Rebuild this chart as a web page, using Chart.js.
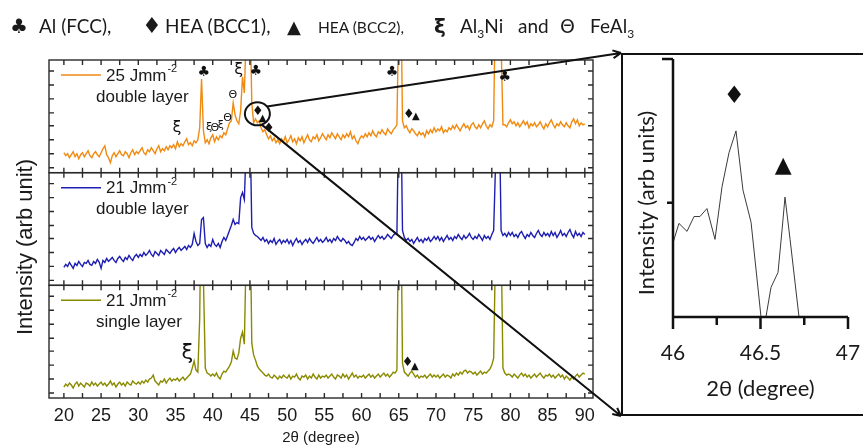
<!DOCTYPE html>
<html>
<head>
<meta charset="utf-8">
<script src="https://cdn.jsdelivr.net/npm/chart.js@4.4.1/dist/chart.umd.min.js"></script>
<style>
  body { margin: 0; width: 863px; height: 447px; overflow: hidden; background: #fff; position: relative; }
  #main { position: absolute; left: 0; top: 0; }
  #phaseKey { position: absolute; left: 0; top: 12px; font-family: Lato, "DejaVu Sans", sans-serif; font-size: 19px; line-height: 28px; color: #1a1a1a; white-space: nowrap; }
  #phaseKey .it { display: inline-block; width: 0; position: relative; white-space: nowrap; }
  #phaseKey .sym { font-family: "DejaVu Sans"; }
  #zoomBox { position: absolute; left: 621px; top: 53px; width: 250px; height: 363px; border: 2px solid #111; box-sizing: border-box; background: #fff; }
  #inset { position: absolute; left: 0; top: 0; }
</style>
</head>
<body>
<canvas id="main" width="863" height="447"></canvas>
<div id="phaseKey">
  <span class="it sym" style="left:10px;font-size:20px">♣</span><span class="it" style="left:39px">Al (FCC),</span><span class="it sym" style="left:142px;font-size:22px">♦</span><span class="it" style="left:165px">HEA (BCC1),</span><span class="it sym" style="left:287px;font-size:18px">▲</span><span class="it" style="left:318px;font-size:15.5px">HEA (BCC2),</span><span class="it sym" style="left:434px;font-size:20px;font-weight:bold">ξ</span><span class="it" style="left:460px">Al<sub style="font-size:12px">3</sub>Ni</span><span class="it" style="left:518px">and</span><span class="it sym" style="left:560px;font-size:19px">Θ</span><span class="it" style="left:590px">FeAl<sub style="font-size:12px">3</sub></span>
</div>
<div id="zoomBox"><canvas id="inset" width="246" height="359"></canvas></div>
<script>
//DATA

// 2theta grid: 20 to 90 deg, 0.25 deg step
var thetaStart = 20;
var thetaStep = 0.25;

// 25 Jmm-2 double layer
var int25Double = [
  20,17,19,15,18,21,16,19,14,18,20,16,19,22,17,15,19,21,18,16,
  20,24,27,18,15,10,17,20,16,19,22,18,17,21,19,15,20,23,18,21,
  19,22,25,20,18,23,21,25,22,19,24,27,21,24,22,26,23,27,25,28,
  24,31,26,29,27,31,34,28,30,27,32,30,33,45,94,42,30,33,29,35,
  38,31,36,33,37,35,40,38,44,50,52,70,58,52,49,62,96,80,140,220,
  170,70,50,54,50,52,45,41,43,38,34,37,32,35,30,33,29,34,31,36,
  30,33,37,31,34,29,35,32,36,30,34,38,33,31,36,34,38,32,35,39,
  36,33,38,35,40,37,34,39,36,33,38,35,39,36,41,34,37,32,29,34,
  37,35,39,36,40,37,42,38,36,41,39,43,40,38,44,41,39,43,45,48,
  160,200,52,45,47,43,40,44,42,39,37,41,38,40,36,42,39,43,40,45,
  41,44,42,46,40,43,41,45,43,47,44,48,45,42,46,49,45,47,43,48,
  50,46,44,48,45,49,52,47,44,48,46,52,180,220,210,130,48,48,46,50,
  53,49,51,47,50,46,49,52,48,51,45,49,47,50,46,48,51,47,44,49,
  46,50,53,48,45,49,47,51,48,46,50,47,45,51,54,49,53,47,50,48,
  49
];

// 21 Jmm-2 double layer
var int21Double = [
  18,21,19,23,20,17,22,20,24,21,19,23,22,25,21,20,24,22,26,23,
  17,25,23,27,24,26,28,25,23,27,29,26,24,28,26,30,27,25,29,31,
  28,31,29,33,30,32,35,31,29,34,32,30,35,33,31,36,34,32,35,37,
  33,36,38,35,37,39,36,40,38,41,52,44,40,42,66,68,42,38,41,39,
  46,41,39,42,38,44,48,45,50,55,60,66,61,63,62,88,93,86,140,220,
  170,58,52,50,49,47,45,48,44,46,42,45,43,47,41,44,46,42,45,43,
  46,42,45,40,44,47,43,45,41,44,46,43,47,44,42,45,48,44,46,43,
  45,48,44,46,43,47,45,49,46,44,47,45,42,44,41,40,43,47,45,49,
  46,48,45,47,49,46,48,44,47,50,47,49,46,48,51,49,47,50,52,51,
  180,200,55,48,45,47,44,46,42,45,48,44,46,43,47,45,48,44,46,49,
  46,49,45,48,44,47,50,46,48,45,49,47,51,48,46,50,47,49,52,48,
  46,49,47,51,48,45,50,47,49,46,51,55,120,230,180,55,50,52,49,53,
  50,53,49,51,48,52,54,50,47,51,49,53,50,48,52,55,51,49,53,50,
  52,49,54,50,53,48,51,55,50,52,49,53,56,51,48,54,50,52,49,53,
  51
];

// 21 Jmm-2 single layer
var int21Single = [
  11,14,12,15,13,10,14,16,12,15,13,11,15,14,12,16,13,15,12,14,
  16,13,15,12,14,17,13,15,11,14,16,13,15,12,16,14,13,17,15,14,
  16,14,17,15,18,16,19,20,23,17,15,13,17,16,19,15,18,20,17,19,
  18,20,17,19,21,18,20,22,24,30,37,28,26,80,240,120,30,25,24,22,
  24,22,25,21,19,24,27,26,29,32,36,47,40,39,45,60,66,54,150,240,
  200,55,43,38,32,29,27,25,23,22,24,21,20,23,21,19,22,20,23,21,
  20,23,19,22,21,24,20,18,22,21,23,19,22,20,24,21,19,23,20,22,
  21,23,20,22,24,21,19,23,22,20,24,21,23,19,22,25,21,23,20,22,
  21,23,20,22,24,21,23,20,22,24,21,23,25,22,24,21,23,26,25,28,
  200,220,35,26,24,22,25,27,24,21,23,20,22,21,23,20,22,24,21,23,
  21,23,20,22,24,21,23,22,20,24,22,25,23,26,24,27,28,25,27,26,
  24,26,23,25,27,24,26,25,27,29,33,40,150,240,230,160,30,25,23,24,
  23,21,24,22,20,23,25,22,24,21,23,20,22,24,21,23,25,22,20,23,
  22,24,21,23,20,22,24,21,23,19,22,20,18,21,19,22,24,21,23,25,
  24
];

var xTickLabels = [20, 25, 30, 35, 40, 45, 50, 55, 60, 65, 70, 75, 80, 85, 90];
var xMinorTicks = [22.5, 27.5, 32.5, 37.5, 42.5, 47.5, 52.5, 57.5, 62.5, 67.5, 72.5, 77.5, 82.5, 87.5];
var yTickVals = [5, 19, 33, 47, 60, 74, 88, 102];

var panelEnergy = ["25 Jmm", "21 Jmm", "21 Jmm"];
var panelLayer = ["double layer", "double layer", "single layer"];

// phase markers: panel index, 2theta, intensity
var phaseMarks = [
  [0, 38.8, 101, "♣"], [0, 35.2, 45, "ξ"], [0, 43.5, 103, "ξ"], [0, 45.8, 102, "♣"],
  [0, 46.06, 61, "♦"], [0, 46.7, 54, "▲"], [0, 47.55, 44, "♦"], [0, 64.1, 101, "♣"],
  [0, 66.35, 58, "♦"], [0, 67.3, 56, "▲"], [0, 79.25, 96, "♣"],
  [2, 36.6, 45, "ξ"], [2, 66.2, 35, "♦"], [2, 67.15, 32, "▲"]
];
var minorPhaseMarks = [
  [0, 39.5, 46, "ξ"], [0, 40.3, 45, "Θ"], [0, 41.1, 48, "ξ"], [0, 42.0, 55, "Θ"], [0, 42.7, 78, "Θ"]
];
var zoomSpot = [46.0, 59];

// inset: 46 - 47 deg of the 25 Jmm-2 pattern
var insetTheta = [46.0, 46.034, 46.08, 46.12, 46.154, 46.194, 46.24, 46.28, 46.32, 46.36, 46.4, 46.446,
  46.503, 46.517, 46.531, 46.56, 46.6, 46.623, 46.64, 46.669, 46.72, 46.737];
var insetIntensity = [0.65, 0.82, 0.75, 0.88, 0.88, 0.95, 0.68, 1.14, 1.44, 1.63, 1.11, 0.83,
  0.0, -0.12, 0.0, 0.26, 0.39, 0.76, 1.05, 0.68, 0.0, -0.13];
var insetTickLabels = [46, 46.5, 47];
var insetMinorTicks = [46.25, 46.75];
var insetYTicks = [1, 2.26];
var insetMarks = [[46.35, 1.93, "♦"], [46.63, 1.32, "▲"]];

//COLORS
var orange = "#F08A10";
var blue = "#1E1EB2";
var olive = "#8A8A00";
var frameColor = "#2a2a2a";
var textColor = "#1a1a1a";

var panelColors = [orange, blue, olive];
var panelAxes = ["yTop", "yMid", "yBot"];
var markSize = { "♣": 14, "♦": 13, "▲": 10, "ξ": 16, "Θ": 12 };

var twoTheta = int25Double.map(function (v, i) { return thetaStart + i * thetaStep; });

function toPoints(vals) {
  return vals.map(function (v, i) { return { x: twoTheta[i], y: v }; });
}

function seg(ctx, x1, y1, x2, y2) {
  ctx.moveTo(x1, y1);
  ctx.lineTo(x2, y2);
}

function arrowTo(ctx, x1, y1, x2, y2) {
  var ang = Math.atan2(y2 - y1, x2 - x1);
  ctx.beginPath();
  seg(ctx, x1, y1, x2, y2);
  seg(ctx, x2, y2, x2 - 9 * Math.cos(ang - 0.45), y2 - 9 * Math.sin(ang - 0.45));
  seg(ctx, x2, y2, x2 - 9 * Math.cos(ang + 0.45), y2 - 9 * Math.sin(ang + 0.45));
  ctx.stroke();
}

// keep the x axes from widening the chart area for their end labels
function noLabelPadding(s) {
  s.paddingLeft = 0;
  s.paddingRight = 0;
}

// clip every pattern to its own panel, then draw frames, ticks, keys and markers
var panelsPlugin = {
  id: "xrdPanels",
  beforeDatasetDraw: function (chart, args) {
    var ys = chart.scales[chart.data.datasets[args.index].yAxisID];
    var a = chart.chartArea;
    chart.ctx.save();
    chart.ctx.beginPath();
    chart.ctx.rect(a.left, ys.top, a.right - a.left, ys.bottom - ys.top);
    chart.ctx.clip();
  },
  afterDatasetDraw: function (chart) {
    chart.ctx.restore();
  },
  afterDraw: function (chart) {
    var ctx = chart.ctx;
    var a = chart.chartArea;
    var xs = chart.scales.x;
    ctx.save();
    panelAxes.forEach(function (id, k) {
      var ys = chart.scales[id];
      ctx.strokeStyle = frameColor;
      ctx.lineWidth = 1.4;
      ctx.strokeRect(a.left, ys.top, a.right - a.left, ys.bottom - ys.top);
      ctx.beginPath();
      xTickLabels.concat(xMinorTicks).forEach(function (v) {
        var p = xs.getPixelForValue(v);
        seg(ctx, p, ys.top, p, ys.top + 5);
        seg(ctx, p, ys.bottom, p, ys.bottom - 5);
      });
      yTickVals.forEach(function (v) {
        var p = ys.getPixelForValue(v);
        seg(ctx, a.left, p, a.left + 5, p);
        seg(ctx, a.right, p, a.right - 5, p);
      });
      ctx.stroke();

      // panel key
      var ly = ys.top + 15;
      ctx.strokeStyle = panelColors[k];
      ctx.lineWidth = 1.5;
      ctx.beginPath();
      seg(ctx, a.left + 12, ly, a.left + 52, ly);
      ctx.stroke();
      ctx.fillStyle = textColor;
      ctx.textAlign = "left";
      ctx.textBaseline = "middle";
      ctx.font = '17px "Liberation Sans"';
      ctx.fillText(panelEnergy[k], a.left + 57, ly + 1);
      var w = ctx.measureText(panelEnergy[k]).width;
      ctx.fillText(panelLayer[k], a.left + 47, ys.top + 37);
      ctx.font = '11px "Liberation Sans"';
      ctx.fillText("-2", a.left + 58 + w, ly - 6);
    });

    // phase markers
    ctx.fillStyle = "#111";
    ctx.textAlign = "center";
    ctx.textBaseline = "middle";
    phaseMarks.forEach(function (m) {
      var ys = chart.scales[panelAxes[m[0]]];
      var size = markSize[m[3]] + (m[0] == 2 && m[3] == "ξ" ? 5 : 0);
      ctx.font = size + 'px "DejaVu Sans"';
      ctx.fillText(m[3], xs.getPixelForValue(m[1]), ys.getPixelForValue(m[2]));
    });
    minorPhaseMarks.forEach(function (m) {
      var ys = chart.scales[panelAxes[m[0]]];
      ctx.font = '11px "DejaVu Sans"';
      ctx.fillText(m[3], xs.getPixelForValue(m[1]), ys.getPixelForValue(m[2]));
    });

    // zoom circle and the lines to the inset
    var cx = xs.getPixelForValue(zoomSpot[0]);
    var cy = chart.scales.yTop.getPixelForValue(zoomSpot[1]);
    ctx.strokeStyle = "#111";
    ctx.lineWidth = 2;
    ctx.beginPath();
    ctx.ellipse(cx, cy, 12.5, 11.5, 0, 0, 2 * Math.PI);
    ctx.stroke();
    var box = document.getElementById("zoomBox");
    arrowTo(ctx, cx + 12.5 * Math.cos(-0.7), cy + 11.5 * Math.sin(-0.7), box.offsetLeft, box.offsetTop);
    arrowTo(ctx, cx + 12.5 * Math.cos(1.22), cy + 11.5 * Math.sin(1.22), box.offsetLeft, box.offsetTop + box.offsetHeight);

    // shared y title
    ctx.translate(26, (a.top + a.bottom) / 2 + 18);
    ctx.rotate(-Math.PI / 2);
    ctx.fillStyle = textColor;
    ctx.font = '22px "Liberation Sans"';
    ctx.fillText("Intensity (arb unit)", 0, 0);
    ctx.restore();
  }
};

function panelAxis(weight) {
  return {
    type: "linear",
    position: "left",
    stack: "xrd",
    stackWeight: 1,
    weight: weight,
    min: 0,
    max: 113,
    ticks: { display: false },
    grid: { display: false, drawTicks: false },
    border: { display: false },
    afterFit: function (s) { s.width = 49; }
  };
}

var mainChart = new Chart(document.getElementById("main"), {
  type: "line",
  data: {
    datasets: [int25Double, int21Double, int21Single].map(function (vals, k) {
      return {
        label: panelEnergy[k] + "-2 " + panelLayer[k],
        data: toPoints(vals),
        yAxisID: panelAxes[k],
        borderColor: panelColors[k],
        borderWidth: 1.4,
        pointRadius: 0,
        tension: 0
      };
    })
  },
  options: {
    responsive: false,
    animation: false,
    events: [],
    layout: { padding: { top: 60, right: 270, left: 0, bottom: 0 } },
    plugins: { legend: { display: false }, tooltip: { enabled: false } },
    scales: {
      x: {
        type: "linear",
        min: 18,
        max: 91.1,
        afterBuildTicks: function (s) {
          s.ticks = xTickLabels.map(function (v) { return { value: v }; });
        },
        ticks: { font: { family: "Liberation Sans", size: 18 }, color: textColor, padding: 7, maxRotation: 0, autoSkip: false },
        grid: { display: false, drawTicks: false },
        border: { display: false },
        title: { display: true, text: "2θ (degree)", font: { family: "Liberation Sans", size: 15 }, color: textColor, padding: { top: 0, bottom: 0 } },
        afterFit: function (s) { s.height = 49; noLabelPadding(s); }
      },
      yBot: panelAxis(1),
      yMid: panelAxis(2),
      yTop: panelAxis(3)
    }
  },
  plugins: [panelsPlugin]
});

// inset axes: thick L-shaped axes with outward ticks
var insetPlugin = {
  id: "insetAxes",
  afterDraw: function (chart) {
    var ctx = chart.ctx;
    var a = chart.chartArea;
    var xs = chart.scales.x;
    var ys = chart.scales.y;
    ctx.save();
    ctx.strokeStyle = "#111";
    ctx.lineWidth = 2.5;
    ctx.beginPath();
    ctx.moveTo(a.left, a.top);
    ctx.lineTo(a.left, a.bottom);
    ctx.lineTo(a.right, a.bottom);
    insetTickLabels.forEach(function (v) {
      var p = xs.getPixelForValue(v);
      seg(ctx, p, a.bottom, p, a.bottom + 12);
    });
    insetMinorTicks.forEach(function (v) {
      var p = xs.getPixelForValue(v);
      seg(ctx, p, a.bottom, p, a.bottom + 8);
    });
    seg(ctx, a.left, ys.getPixelForValue(insetYTicks[0]), a.left - 6, ys.getPixelForValue(insetYTicks[0]));
    seg(ctx, a.left, ys.getPixelForValue(insetYTicks[1]), a.left - 11, ys.getPixelForValue(insetYTicks[1]));
    ctx.stroke();

    ctx.fillStyle = "#111";
    ctx.textAlign = "center";
    ctx.textBaseline = "middle";
    insetMarks.forEach(function (m) {
      ctx.font = (m[2] == "♦" ? 24 : 22) + 'px "DejaVu Sans"';
      ctx.fillText(m[2], xs.getPixelForValue(m[0]), ys.getPixelForValue(m[1]));
    });

    ctx.translate(24, 148);
    ctx.rotate(-Math.PI / 2);
    ctx.fillStyle = textColor;
    ctx.font = '22px Lato';
    ctx.fillText("Intensity (arb units)", 0, 0);
    ctx.restore();
  }
};

var insetChart = new Chart(document.getElementById("inset"), {
  type: "line",
  data: {
    datasets: [{
      label: "25 Jmm-2 double layer (46-47)",
      data: insetTheta.map(function (t, i) { return { x: t, y: insetIntensity[i] }; }),
      borderColor: "#3a3a3a",
      borderWidth: 1,
      pointRadius: 0,
      tension: 0,
      clip: 0
    }]
  },
  options: {
    responsive: false,
    animation: false,
    events: [],
    layout: { padding: { top: 4, right: 21, left: 0, bottom: 0 } },
    plugins: { legend: { display: false }, tooltip: { enabled: false } },
    scales: {
      x: {
        type: "linear",
        min: 46,
        max: 47,
        afterBuildTicks: function (s) {
          s.ticks = insetTickLabels.map(function (v) { return { value: v }; });
        },
        ticks: {
          font: { family: "Lato", size: 21 }, color: textColor, padding: 24, maxRotation: 0, autoSkip: false,
          callback: function (v) { return String(v); }
        },
        grid: { display: false, drawTicks: false },
        border: { display: false },
        title: { display: true, text: "2θ (degree)", font: { family: "Lato", size: 22 }, color: textColor, padding: { top: 0, bottom: 12 } },
        afterFit: function (s) { s.height = 97; noLabelPadding(s); }
      },
      y: {
        type: "linear",
        min: 0,
        max: 2.26,
        ticks: { display: false },
        grid: { display: false, drawTicks: false },
        border: { display: false },
        afterFit: function (s) { s.width = 50; }
      }
    }
  },
  plugins: [insetPlugin]
});
</script>
</body>
</html>
